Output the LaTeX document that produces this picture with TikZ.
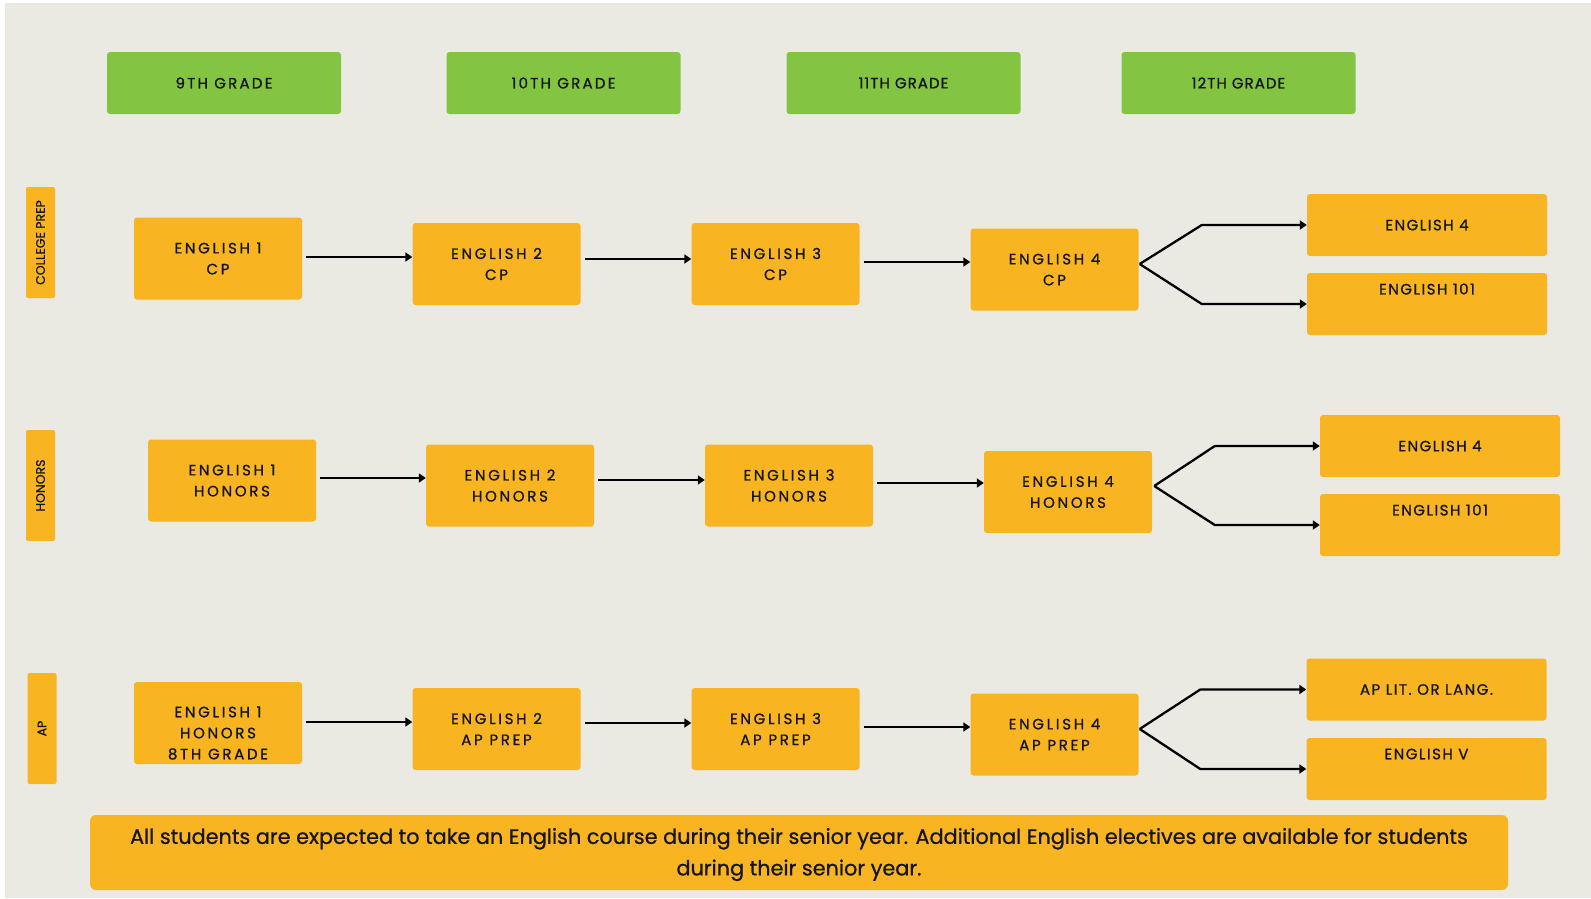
\documentclass[tikz,border=0pt]{standalone}
\usepackage{fontspec}
\setmainfont{Poppins}
\newfontfamily\capfont[LetterSpace=18,FakeBold=1]{Poppins}
\newfontfamily\widefont[LetterSpace=15,FakeBold=1]{Poppins}
\newfontfamily\narrowfont[LetterSpace=7,FakeBold=1]{Poppins}
\newfontfamily\tgtfont[LetterSpace=10,FakeBold=1]{Poppins}
\newfontfamily\plainfont[FakeBold=0.8]{Poppins}
\usetikzlibrary{arrows.meta,calc}
\definecolor{bgc}{HTML}{EBEAE2}
\definecolor{org}{HTML}{F9B421}
\definecolor{grn}{HTML}{83C442}
\definecolor{ink}{HTML}{151515}
\begin{document}
\begin{tikzpicture}[x=1pt,y=-1pt,
  gradebox/.style={fill=grn, rounded corners=3pt, minimum width=234pt, minimum height=62pt, inner sep=0pt, text=ink, font=\widefont\fontsize{15}{18}\selectfont},
  gradeboxn/.style={gradebox, font=\narrowfont\fontsize{15}{18}\selectfont},
  course/.style={fill=org, rounded corners=3pt, minimum width=168pt, minimum height=82pt, inner sep=0pt, align=center, text=ink, font=\capfont\fontsize{15}{21}\selectfont},
  target/.style={fill=org, rounded corners=3pt, minimum width=240pt, minimum height=62pt, inner sep=0pt, align=center, text=ink, font=\tgtfont\fontsize{15}{18}\selectfont},
  tgtlabel/.style={yshift=15pt, text=ink, font=\tgtfont\fontsize{15}{18}\selectfont},
  side/.style={fill=org, rounded corners=2pt, minimum width=111pt, minimum height=29pt, inner sep=0pt, rotate=90, text=ink, font=\plainfont\fontsize{12.5}{14}\selectfont},
  note/.style={fill=org, rounded corners=6pt, minimum width=1418pt, minimum height=75pt, inner sep=0pt, align=center, text=ink, font=\plainfont\fontsize{20.8}{31.5}\selectfont},
  notelabel/.style={yshift=-2pt, align=center, text=ink, font=\plainfont\fontsize{20.8}{31.5}\selectfont},
  arr/.style={draw=black, line width=2.3pt, line join=round, -{Triangle[length=7pt,width=9pt]}}
]
\useasboundingbox (0,0) rectangle (1591,898);
\fill[white] (0,0) rectangle (1591,898);
\fill[bgc] (5,3) rectangle (1591,898);

% grade headers
\node[gradebox]  (g9)  at (224,83)    {9TH GRADE};
\node[gradebox]  (g10) at (563.5,83)  {10TH GRADE};
\node[gradeboxn] (g11) at (903.5,83)  {11TH GRADE};
\node[gradeboxn] (g12) at (1238.5,83) {12TH GRADE};

% side labels
\node[side] (scp)  at (40.5,242.5) {COLLEGE PREP};
\node[side] (shon) at (40.5,485.5) {HONORS};
\node[side] (sap)  at (42,728.5)   {AP};

% row 1
\node[course] (e1cp) at (218,258.5)  {ENGLISH 1\\CP};
\node[course] (e2cp) at (496.5,264)  {ENGLISH 2\\CP};
\node[course] (e3cp) at (775.5,264)  {ENGLISH 3\\CP};
\node[course] (e4cp) at (1054.5,269.5) {ENGLISH 4\\CP};
\node[target] (r1a) at (1427,225) {ENGLISH 4};
\node[target, label={[tgtlabel]center:ENGLISH 101}] (r1b) at (1427,304) {};

% row 2
\node[course] (e1h) at (232,480.5)  {ENGLISH 1\\HONORS};
\node[course] (e2h) at (510,485.5)  {ENGLISH 2\\HONORS};
\node[course] (e3h) at (789,485.5)  {ENGLISH 3\\HONORS};
\node[course] (e4h) at (1068,492)   {ENGLISH 4\\HONORS};
\node[target] (r2a) at (1440,446) {ENGLISH 4};
\node[target, label={[tgtlabel]center:ENGLISH 101}] (r2b) at (1440,525) {};

% row 3
\node[course, label={[yshift=-10pt, align=center, font=\capfont\fontsize{15}{21}\selectfont, text=ink]center:ENGLISH 1\\HONORS\\8TH GRADE}] (e1ap) at (218,723) {};
\node[course] (e2ap) at (496.5,729)  {ENGLISH 2\\AP PREP};
\node[course] (e3ap) at (775.5,729)  {ENGLISH 3\\AP PREP};
\node[course] (e4ap) at (1054.5,734.5) {ENGLISH 4\\AP PREP};
\node[target] (r3a) at (1426.5,689.5) {AP LIT. OR LANG.};
\node[target, label={[tgtlabel]center:ENGLISH V}] (r3b) at (1426.5,769) {};

% note
\node[note, label={[notelabel]center:All students are expected to take an English course during their senior year. Additional English electives are available for students\\during their senior year.}] (note) at (799,852.5) {};

% straight arrows
\coordinate (s1) at ($(e1cp.east)+(4,-1.5)$);
\coordinate (s2) at ($(e2cp.east)+(4,-5)$);
\coordinate (s3) at ($(e3cp.east)+(4,-2)$);
\coordinate (s4) at ($(e1h.east)+(4,-2.5)$);
\coordinate (s5) at ($(e2h.east)+(4,-5.5)$);
\coordinate (s6) at ($(e3h.east)+(4,-2.5)$);
\coordinate (s7) at ($(e1ap.east)+(4,-1)$);
\coordinate (s8) at ($(e2ap.east)+(4,-6)$);
\coordinate (s9) at ($(e3ap.east)+(4,-2)$);
\draw[arr] (s1) -- (s1 -| e2cp.west);
\draw[arr] (s2) -- (s2 -| e3cp.west);
\draw[arr] (s3) -- (s3 -| e4cp.west);
\draw[arr] (s4) -- (s4 -| e2h.west);
\draw[arr] (s5) -- (s5 -| e3h.west);
\draw[arr] (s6) -- (s6 -| e4h.west);
\draw[arr] (s7) -- (s7 -| e2ap.west);
\draw[arr] (s8) -- (s8 -| e3ap.west);
\draw[arr] (s9) -- (s9 -| e4ap.west);

% branches
\coordinate (br1) at ($(e4cp.east)+(1,-5.5)$);
\coordinate (b1a) at ($(r1a.west)+(-105,0)$);
\coordinate (b1b) at ($(r1b.west)+(-105,0)$);
\draw[arr] (br1) -- (b1a) -- (r1a.west);
\draw[arr] (br1) -- (b1b) -- (r1b.west);

\coordinate (br2) at ($(e4h.east)+(2,-6)$);
\coordinate (b2a) at ($(r2a.west)+(-105,0)$);
\coordinate (b2b) at ($(r2b.west)+(-105,0)$);
\draw[arr] (br2) -- (b2a) -- (r2a.west);
\draw[arr] (br2) -- (b2b) -- (r2b.west);

\coordinate (br3) at ($(e4ap.east)+(1,-5.5)$);
\coordinate (b3a) at ($(r3a.west)+(-106,0)$);
\coordinate (b3b) at ($(r3b.west)+(-106,0)$);
\draw[arr] (br3) -- (b3a) -- (r3a.west);
\draw[arr] (br3) -- (b3b) -- (r3b.west);
\end{tikzpicture}
\end{document}
